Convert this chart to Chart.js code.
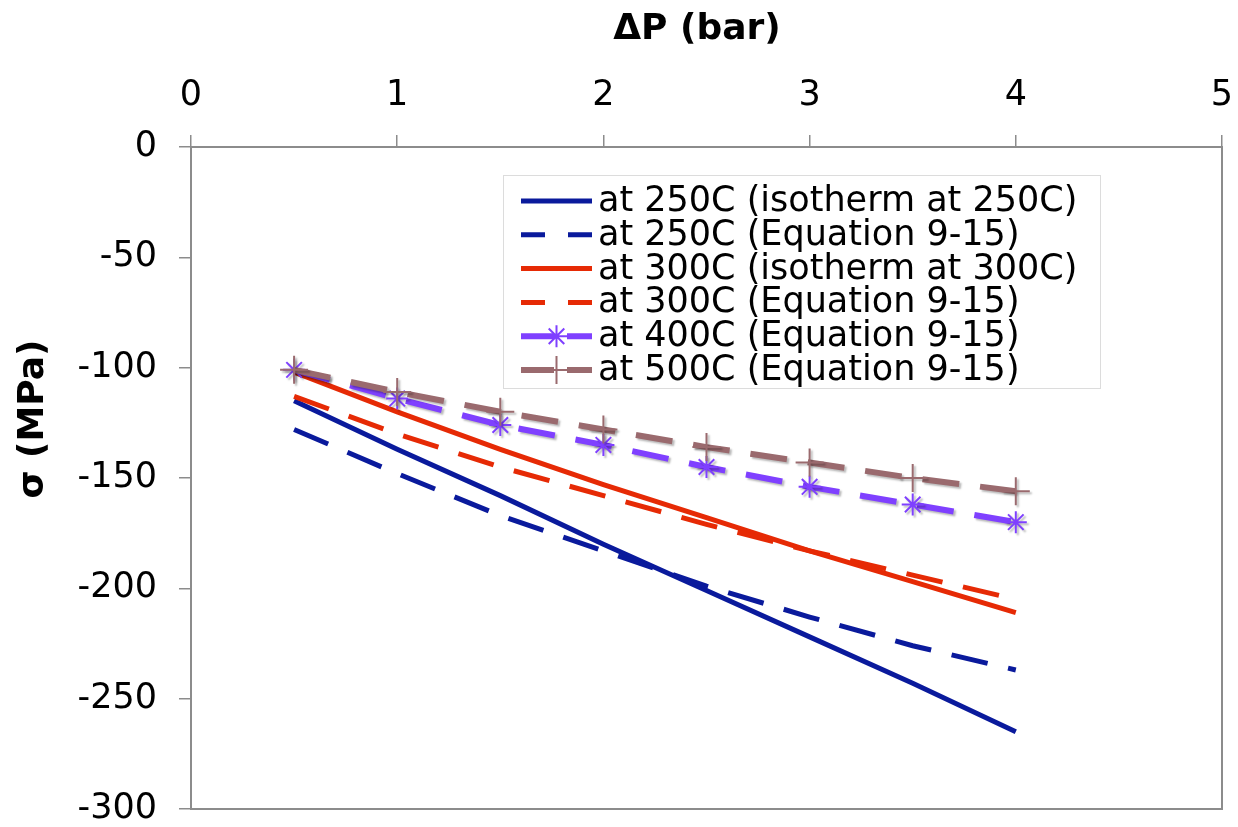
<!DOCTYPE html>
<html>
<head>
<meta charset="utf-8">
<script src="https://cdn.jsdelivr.net/npm/chart.js@4.4.1/dist/chart.umd.min.js"></script>
<style>
  html, body { margin: 0; padding: 0; background: #fff; }
  #wrap { position: relative; width: 1238px; height: 827px; }
</style>
</head>
<body>
<div id="wrap"><canvas id="chart" width="1238" height="827"></canvas></div>
<script>
// pressure difference (bar)
const DP = [0.5, 1, 1.5, 2, 2.5, 3, 3.5, 4];

// stress sigma (MPa)
const S250_ISO = [-115, -137, -158, -180, -201, -222, -243, -265];
const S250_EQ  = [-128, -148, -167, -183, -199, -213, -226, -237];
const S300_ISO = [-102, -120, -137, -153, -168, -183, -197, -211];
const S300_EQ  = [-113, -130, -145, -158, -171, -183, -194, -205];
const S400_EQ  = [-101, -114, -126, -135, -145, -154, -162, -170];
const S500_EQ  = [-101, -111, -120, -128, -136, -143, -150, -156];

const LABELS = [
  "at 250C (isotherm at 250C)",
  "at 250C (Equation 9-15)",
  "at 300C (isotherm at 300C)",
  "at 300C (Equation 9-15)",
  "at 400C (Equation 9-15)",
  "at 500C (Equation 9-15)",
];

const X_TITLE = "\u0394P (bar)";
const Y_TITLE = "\u03c3 (MPa)";

const FONT = "'DejaVu Sans', Verdana, sans-serif";
const AXIS_GRAY = "#8c8c8c";
const DASH = [37, 21];

function series(i, data, color, dash, width, pointStyle, radius) {
  return {
    label: LABELS[i],
    data: DP.map((x, j) => ({ x, y: data[j] })),
    borderColor: color,
    backgroundColor: color,
    borderWidth: width,
    borderDash: dash,
    borderCapStyle: "butt",
    pointStyle: pointStyle || "circle",
    pointRadius: pointStyle ? radius : 0,
    pointBorderWidth: 2,
    pointBorderColor: color,
    tension: 0,
    order: 6 - i,
    shadow: !!pointStyle,
  };
}

const datasets = [
  series(0, S250_ISO, "#0a1a9c", [], 5),
  series(1, S250_EQ,  "#0a1a9c", DASH, 5),
  series(2, S300_ISO, "#e62a05", [], 5),
  series(3, S300_EQ,  "#e62a05", DASH, 5),
  series(4, S400_EQ,  "#7f40ff", DASH, 6, "star", 11),
  series(5, S500_EQ,  "#9a6a6e", DASH, 6, "cross", 14),
];

// gray frame around the plot area
const framePlugin = {
  id: "frame",
  beforeDatasetsDraw(chart) {
    const { ctx, chartArea: a } = chart;
    ctx.save();
    ctx.strokeStyle = AXIS_GRAY;
    ctx.lineWidth = 2;
    ctx.strokeRect(a.left, a.top, a.right - a.left, a.bottom - a.top);
    ctx.restore();
  },
};

// soft drop shadow on the marker series, like the original
const shadowPlugin = {
  id: "shadow",
  beforeDatasetDraw(chart, args) {
    if (!chart.data.datasets[args.index].shadow) return;
    const ctx = chart.ctx;
    ctx.save();
    ctx.shadowColor = "rgba(0,0,0,0.28)";
    ctx.shadowOffsetX = 2;
    ctx.shadowOffsetY = 2;
    ctx.shadowBlur = 2;
  },
  afterDatasetDraw(chart, args) {
    if (!chart.data.datasets[args.index].shadow) return;
    chart.ctx.restore();
  },
};

// axis titles and the boxed legend inside the plot
const overlayPlugin = {
  id: "overlay",
  afterDraw(chart) {
    const ctx = chart.ctx;
    ctx.save();
    ctx.fillStyle = "#000";
    ctx.font = "bold 36px " + FONT;
    ctx.textAlign = "center";
    ctx.textBaseline = "middle";
    ctx.fillText(X_TITLE, 697, 30);
    ctx.translate(34, 419);
    ctx.rotate(-Math.PI / 2);
    ctx.fillText(Y_TITLE, 0, 0);
    ctx.restore();

    // legend box
    const bx = 503, by = 175, bw = 597, bh = 213;
    ctx.save();
    ctx.fillStyle = "#fff";
    ctx.fillRect(bx, by, bw, bh);
    ctx.strokeStyle = "#dcdcdc";
    ctx.lineWidth = 1;
    ctx.strokeRect(bx + 0.5, by + 0.5, bw, bh);

    const x0 = 521, x1 = 592, rowY0 = 201, rowH = 33.8;
    chart.data.datasets.forEach((ds, i) => {
      const y = rowY0 + i * rowH;
      ctx.save();
      ctx.strokeStyle = ds.borderColor;
      ctx.lineWidth = ds.borderWidth;
      ctx.lineCap = "butt";
      if (ds.borderDash.length) {
        ctx.setLineDash(ds.pointRadius ? [33, 13, 25] : [24, 23, 24]);
      }
      ctx.beginPath();
      ctx.moveTo(x0, y);
      ctx.lineTo(x1, y);
      ctx.stroke();
      ctx.setLineDash([]);
      if (ds.pointRadius) {
        ctx.lineWidth = 2;
        Chart.helpers.drawPoint(ctx, {
          pointStyle: ds.pointStyle,
          radius: ds.pointRadius,
          borderWidth: 2,
          rotation: 0,
        }, (x0 + x1) / 2, y);
      }
      ctx.restore();
      ctx.fillStyle = "#000";
      ctx.font = "35px " + FONT;
      ctx.textAlign = "left";
      ctx.textBaseline = "middle";
      ctx.fillText(ds.label, 598, y + 1);
    });
    ctx.restore();
  },
};

new Chart(document.getElementById("chart"), {
  type: "line",
  data: { datasets },
  options: {
    responsive: false,
    devicePixelRatio: 1,
    animation: false,
    layout: { padding: { left: 0, right: 14, top: 0, bottom: 18 } },
    plugins: {
      legend: { display: false },
      tooltip: { enabled: false },
    },
    scales: {
      x: {
        type: "linear",
        position: "top",
        min: 0,
        max: 5,
        ticks: {
          stepSize: 1,
          color: "#000",
          font: { family: FONT, size: 35 },
          padding: 18,
          maxRotation: 0,
        },
        grid: {
          drawOnChartArea: false,
          drawTicks: true,
          tickLength: 12,
          color: AXIS_GRAY,
          lineWidth: 1.5,
        },
        border: { display: false },
        afterFit(s) {
          s.height = 147;
          s.paddingLeft = 0;
          s.paddingRight = 0;
        },
      },
      y: {
        type: "linear",
        min: -300,
        max: 0,
        ticks: {
          stepSize: 50,
          color: "#000",
          font: { family: FONT, size: 35 },
          padding: 22,
        },
        grid: {
          drawOnChartArea: false,
          drawTicks: true,
          tickLength: 12,
          color: AXIS_GRAY,
          lineWidth: 1.5,
        },
        border: { display: false },
        afterFit(s) {
          s.width = 191;
          s.paddingTop = 0;
          s.paddingBottom = 0;
        },
      },
    },
  },
  plugins: [framePlugin, shadowPlugin, overlayPlugin],
});
</script>
</body>
</html>
